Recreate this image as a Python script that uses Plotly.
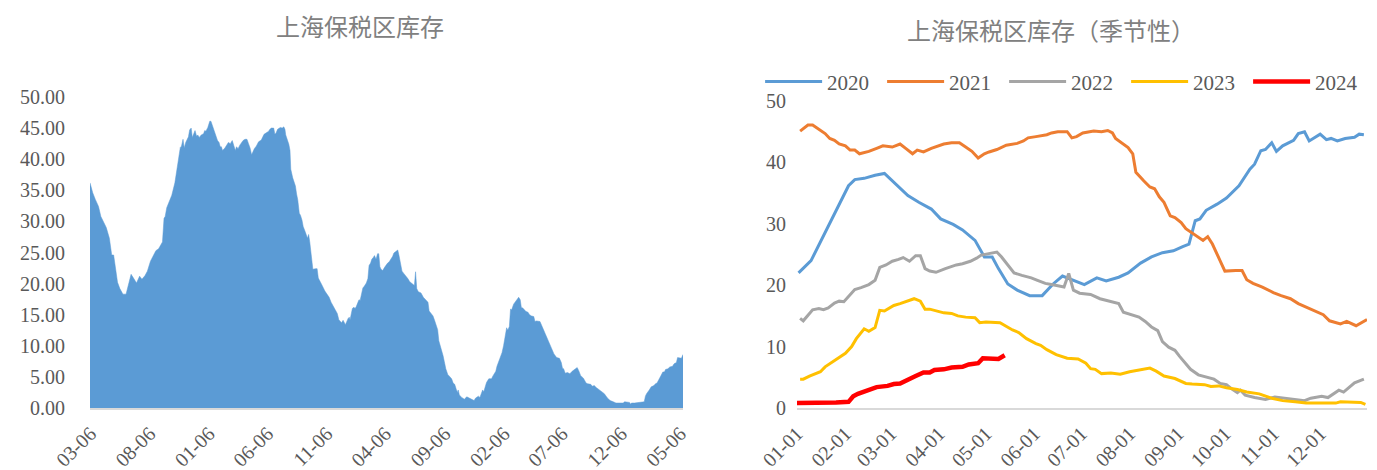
import plotly.graph_objects as go

# Weekly readings of Shanghai bonded-zone stocks, by month-day within each year
years = ["2020", "2021", "2022", "2023", "2024"]

dates_2020 = ["01-02", "01-10", "02-03", "02-07", "02-13", "02-20", "02-26", "03-05", "03-12", "03-19",
              "03-27", "04-02", "04-10", "04-16", "04-24", "04-30", "05-05", "05-09", "05-15", "05-21",
              "05-29", "06-06", "06-13", "06-19", "06-26", "07-03", "07-11", "07-17", "07-25", "07-31",
              "08-08", "08-15", "08-22", "08-29", "09-04", "09-08", "09-12", "09-15", "09-19", "09-26",
              "10-02", "10-10", "10-17", "10-20", "10-24", "10-27", "10-31", "11-03", "11-07", "11-14",
              "11-17", "11-21", "11-24", "12-01", "12-05", "12-08", "12-12", "12-17", "12-23", "12-26",
              "12-29"]
stock_2020 = [22.0, 24.0, 36.2, 37.2, 37.4, 37.9, 38.2, 36.2, 34.6, 33.5,
              32.4, 30.8, 29.9, 29.0, 27.3, 24.6, 24.6, 22.7, 20.2, 19.2,
              18.3, 18.3, 20.2, 21.5, 20.8, 20.1, 21.2, 20.7, 21.3, 22.0,
              23.6, 24.6, 25.3, 25.6, 26.3, 26.7, 30.5, 30.8, 32.2, 33.2,
              34.2, 36.2, 38.9, 39.7, 41.9, 42.1, 43.2, 41.8, 42.7, 43.6,
              44.7, 45.0, 43.5, 44.6, 43.7, 43.9, 43.5, 43.9, 44.1, 44.6,
              44.5]

dates_2021 = ["01-03", "01-08", "01-11", "01-16", "01-19", "01-22", "01-25", "01-28", "02-01", "02-04",
              "02-07", "02-10", "02-16", "02-21", "02-25", "03-02", "03-07", "03-11", "03-15", "03-18",
              "03-22", "03-27", "03-31", "04-04", "04-09", "04-14", "04-18", "04-22", "04-26", "04-30",
              "05-03", "05-08", "05-14", "05-21", "05-25", "05-28", "06-02", "06-09", "06-12", "06-16",
              "06-22", "06-25", "06-28", "07-02", "07-09", "07-14", "07-18", "07-21", "07-23", "07-27",
              "07-31", "08-03", "08-05", "08-10", "08-14", "08-17", "08-20", "08-23", "08-27", "08-30",
              "09-03", "09-06", "09-12", "09-17", "09-20", "09-23", "09-29", "10-01", "10-08", "10-12",
              "10-15", "10-19", "10-25", "11-01", "11-06", "11-12", "11-17", "11-24", "12-03", "12-07",
              "12-14", "12-18", "12-24", "12-31"]
stock_2021 = [45.1, 46.1, 46.1, 45.2, 44.7, 43.9, 43.6, 43.0, 42.7, 42.0,
              42.0, 41.4, 41.8, 42.3, 42.7, 42.5, 43.0, 42.2, 41.4, 42.0,
              41.7, 42.3, 42.7, 43.0, 43.2, 43.2, 42.5, 41.8, 40.7, 41.4,
              41.7, 42.1, 42.8, 43.1, 43.5, 44.0, 44.2, 44.5, 44.8, 45.0,
              45.0, 44.0, 44.2, 44.8, 45.1, 45.0, 45.2, 44.8, 43.9, 43.2,
              42.4, 41.4, 38.4, 37.0, 36.0, 35.7, 34.4, 33.5, 31.3, 31.0,
              30.2, 29.2, 28.2, 27.3, 27.9, 26.7, 23.4, 22.3, 22.4, 22.4,
              20.9, 20.3, 19.7, 18.8, 18.3, 17.8, 17.0, 16.2, 15.2, 14.2,
              13.7, 14.1, 13.4, 14.4]

dates_2022 = ["01-03", "01-05", "01-11", "01-15", "01-18", "01-21", "01-25", "01-28", "01-31", "02-04",
              "02-07", "02-11", "02-16", "02-20", "02-23", "02-27", "03-02", "03-06", "03-09", "03-13",
              "03-17", "03-20", "03-23", "03-26", "03-30", "04-05", "04-09", "04-12", "04-16", "04-21",
              "04-25", "04-28", "05-02", "05-08", "05-11", "05-19", "05-24", "05-30", "06-03", "06-08",
              "06-12", "06-16", "06-20", "06-23", "06-26", "06-30", "07-07", "07-13", "07-19", "07-25",
              "07-28", "08-02", "08-07", "08-11", "08-15", "08-19", "08-22", "08-26", "08-30", "09-02",
              "09-05", "09-09", "09-14", "09-19", "09-24", "09-28", "10-02", "10-06", "10-09", "10-11",
              "10-14", "10-20", "10-27", "11-02", "11-08", "11-15", "11-21", "11-25", "12-02", "12-06",
              "12-13", "12-16", "12-19", "12-23", "12-29"]
stock_2022 = [14.6, 14.2, 16.0, 16.2, 16.0, 16.3, 17.1, 17.4, 17.3, 18.4,
              19.3, 19.6, 20.1, 20.8, 22.9, 23.3, 23.9, 24.2, 24.5, 23.9,
              24.8, 24.8, 22.7, 22.3, 22.1, 22.7, 23.1, 23.3, 23.5, 23.9,
              24.4, 24.9, 25.1, 25.4, 24.6, 22.0, 21.6, 21.2, 20.8, 20.3,
              20.1, 19.9, 19.7, 21.9, 19.2, 18.7, 18.5, 17.8, 17.4, 17.0,
              15.6, 15.2, 14.8, 14.1, 13.2, 12.6, 10.8, 9.9, 9.4, 8.4,
              7.5, 6.3, 5.4, 5.1, 4.7, 4.0, 3.8, 3.0, 2.5, 2.9,
              2.1, 1.7, 1.4, 1.8, 1.6, 1.3, 1.2, 1.6, 1.9, 1.7,
              2.9, 2.6, 3.2, 4.1, 4.7]

dates_2023 = ["01-03", "01-05", "01-09", "01-16", "01-19", "01-25", "02-01", "02-05", "02-08", "02-13",
              "02-16", "02-20", "02-23", "02-26", "03-03", "03-07", "03-11", "03-16", "03-20", "03-23",
              "03-26", "03-31", "04-04", "04-09", "04-13", "04-18", "04-24", "04-27", "05-01", "05-10",
              "05-14", "05-18", "05-22", "05-27", "06-02", "06-05", "06-09", "06-15", "06-22", "06-29",
              "07-04", "07-07", "07-10", "07-14", "07-20", "07-26", "08-01", "08-08", "08-14", "08-18",
              "08-23", "08-30", "09-06", "09-10", "09-18", "09-22", "09-27", "10-02", "10-09", "10-15",
              "10-23", "10-31", "11-07", "11-15", "11-22", "11-30", "12-11", "12-14", "12-22", "12-27",
              "12-30"]
stock_2023 = [4.7, 4.7, 5.2, 5.9, 6.7, 7.7, 8.9, 10.0, 11.3, 12.9,
              12.5, 13.1, 15.9, 15.8, 16.7, 17.0, 17.4, 17.8, 17.4, 16.1,
              16.1, 15.8, 15.5, 15.4, 15.0, 14.8, 14.7, 13.9, 14.0, 13.9,
              13.3, 12.7, 12.3, 11.3, 10.5, 10.2, 9.5, 8.7, 8.1, 8.0,
              7.3, 6.4, 6.3, 5.6, 5.7, 5.5, 5.9, 6.2, 6.5, 6.0,
              5.2, 4.8, 4.0, 3.9, 3.8, 3.5, 3.6, 3.3, 3.0, 2.6,
              2.3, 1.6, 1.2, 1.0, 0.8, 0.8, 0.8, 1.0, 0.9, 0.9,
              0.6]

dates_2024 = ["01-01", "01-09", "01-18", "01-26", "02-03", "02-06", "02-09", "02-16", "02-21", "02-28",
              "03-03", "03-07", "03-12", "03-17", "03-22", "03-26", "03-29", "04-04", "04-09", "04-16",
              "04-20", "04-26", "04-29", "05-05", "05-09", "05-13"]
stock_2024 = [0.8, 0.8, 0.85, 0.9, 1.0, 1.9, 2.3, 2.9, 3.4, 3.6,
              3.9, 4.0, 4.7, 5.2, 5.8, 5.8, 6.2, 6.3, 6.6, 6.7,
              7.1, 7.3, 8.1, 8.1, 8.0, 8.6]

season_dates = [dates_2020, dates_2021, dates_2022, dates_2023, dates_2024]
season_stock = [stock_2020, stock_2021, stock_2022, stock_2023, stock_2024]
season_colors = ["#5B9BD5", "#ED7D31", "#A5A5A5", "#FFC000", "#FF0000"]
season_widths = [3, 3, 3, 3, 4.5]

month_ticks = ["01-01", "02-01", "03-01", "04-01", "05-01", "06-01",
               "07-01", "08-01", "09-01", "10-01", "11-01", "12-01"]
history_ticks = ["2020-03-06", "2020-08-06", "2021-01-06", "2021-06-06", "2021-11-06", "2022-04-06",
                 "2022-09-06", "2023-02-06", "2023-07-06", "2023-12-06", "2024-05-06"]
history_start = "2020-03-05"

# Continuous history assembled from the yearly series
hist_x, hist_y = [], []
for yr, ds, vs in zip(years, season_dates, season_stock):
    for d, v in zip(ds, vs):
        full = f"{yr}-{d}"
        if full >= history_start:
            hist_x.append(full)
            hist_y.append(v)

GRAY = "#595959"
NUM_FONT = dict(family="Liberation Serif", size=20, color=GRAY)
CJK_FONT = dict(family="Noto Sans CJK SC", size=24, color="#808080")

fig = go.Figure()

fig.add_trace(go.Scatter(
    x=hist_x, y=hist_y, mode="lines", fill="tozeroy",
    line=dict(color="#5B9BD5", width=0.5), fillcolor="#5B9BD5",
    showlegend=False, xaxis="x", yaxis="y", hoverinfo="x+y"))

# Seasonal lines placed on a common (leap) year
for yr, ds, vs, c, w in zip(years, season_dates, season_stock, season_colors, season_widths):
    fig.add_trace(go.Scatter(
        x=[f"2000-{d}" for d in ds], y=vs, mode="lines", name=yr,
        line=dict(color=c, width=w), xaxis="x2", yaxis="y2"))

fig.update_layout(
    width=1377, height=470,
    margin=dict(l=0, r=0, t=0, b=0, autoexpand=False),
    paper_bgcolor="white", plot_bgcolor="white",
    showlegend=True,
    legend=dict(orientation="h", x=0.552, y=0.826, xanchor="left", yanchor="middle",
                font=dict(family="Liberation Serif", size=21, color=GRAY),
                entrywidth=50, entrywidthmode="pixels", itemwidth=57,
                bgcolor="rgba(0,0,0,0)", traceorder="normal"),
    xaxis=dict(domain=[90 / 1377, 683 / 1377], type="date",
               range=[hist_x[0], hist_x[-1]],
               tickvals=history_ticks, tickformat="%m-%d", tickangle=-45,
               tickfont=NUM_FONT, showgrid=False, zeroline=False,
               showline=True, linecolor="#D9D9D9", linewidth=2,
               ticks="", ticklabelstandoff=4, anchor="y", automargin=False),
    yaxis=dict(domain=[1 - 408 / 470, 1 - 97 / 470], range=[0, 50], dtick=5,
               tickformat=".2f", tickfont=NUM_FONT, showgrid=False, zeroline=False,
               showline=False, ticks="", ticklabelstandoff=24, anchor="x", automargin=False),
    xaxis2=dict(domain=[797 / 1377, 1367 / 1377], type="date",
                range=["2000-01-01", "2000-12-31"],
                tickvals=[f"2000-{m}" for m in month_ticks], tickformat="%m-%d", tickangle=-45,
                tickfont=NUM_FONT, showgrid=False, zeroline=False,
                showline=True, linecolor="#D9D9D9", linewidth=2,
                ticks="", ticklabelstandoff=4, anchor="y2", automargin=False),
    yaxis2=dict(domain=[1 - 408 / 470, 1 - 101 / 470], range=[0, 50], dtick=10,
                tickfont=NUM_FONT, showgrid=False, zeroline=False,
                showline=False, ticks="", ticklabelstandoff=10, anchor="x2", automargin=False),
    annotations=[
        dict(text="上海保税区库存", x=360 / 1377, y=1 - 26 / 470, xref="paper", yref="paper",
             xanchor="center", yanchor="middle", showarrow=False, font=CJK_FONT),
        dict(text="上海保税区库存（季节性）", x=1051 / 1377, y=1 - 29 / 470, xref="paper", yref="paper",
             xanchor="center", yanchor="middle", showarrow=False, font=CJK_FONT),
    ],
)

fig.write_html("out.html")
